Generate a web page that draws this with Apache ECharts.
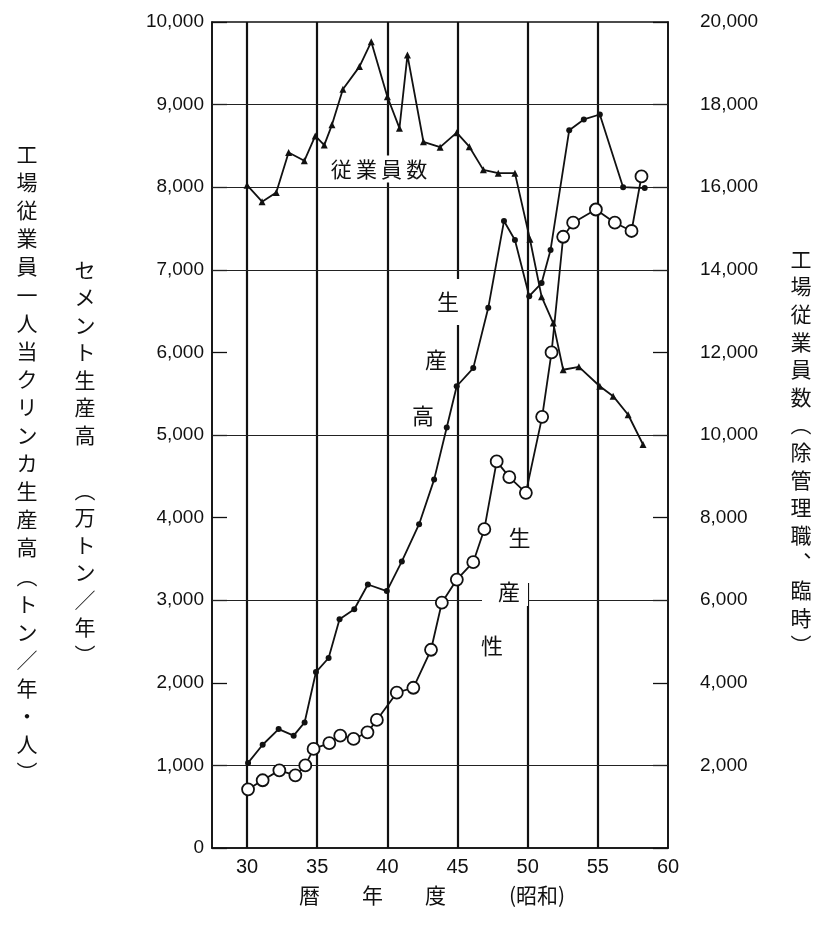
<!DOCTYPE html>
<html>
<head>
<meta charset="utf-8">
<script src="https://cdn.jsdelivr.net/npm/echarts@6/dist/echarts.min.js"></script>
<style>
html,body{margin:0;padding:0;background:#fff;}
#chart{width:819px;height:933px;}
</style>
</head>
<body>
<div id="chart"></div>
<script>
// ---- data ----
// x tick labels (昭和 fiscal years)
const xTicks = [30, 35, 40, 45, 50, 55, 60];
// 工場従業員数 (right axis) — year positions and values
const empYears = [30.0, 31.07, 32.08, 32.96, 34.08, 34.86, 35.5, 36.05, 36.83, 38.01, 38.85, 40.0, 40.86, 41.43, 42.57, 43.76, 44.94, 45.84, 46.84, 47.9, 49.09, 50.16, 50.99, 51.82, 52.53, 53.65, 55.14, 56.09, 57.16, 58.22];
const empCount = [16050, 15650, 15870, 16840, 16640, 17240, 17020, 17510, 18370, 18920, 19520, 18190, 17430, 19200, 17100, 16970, 17320, 16980, 16420, 16340, 16340, 14740, 13350, 12710, 11580, 11650, 11180, 10940, 10490, 9770];
// セメント生産高 (万トン/年, left axis)
const cementYears = [30.07, 31.11, 32.25, 33.32, 34.1, 34.91, 35.81, 36.59, 37.64, 38.61, 39.96, 41.03, 42.26, 43.33, 44.23, 44.94, 46.12, 47.19, 48.31, 49.09, 50.11, 50.99, 51.63, 52.96, 54.0, 55.14, 56.8, 58.34];
const cementOutput = [1030, 1250, 1440, 1360, 1520, 2130, 2300, 2770, 2890, 3190, 3110, 3470, 3920, 4460, 5090, 5590, 5810, 6540, 7590, 7360, 6680, 6840, 7240, 8690, 8820, 8880, 8000, 7990];
// 工場従業員一人当クリンカ生産高 (トン/年・人, left axis)
const prodYears = [30.07, 31.11, 32.3, 33.44, 34.15, 34.74, 35.86, 36.64, 37.59, 38.58, 39.25, 40.67, 41.85, 43.11, 43.88, 44.95, 46.12, 46.91, 47.79, 48.69, 49.87, 51.03, 51.7, 52.53, 53.24, 54.86, 56.21, 57.4, 58.11];
const prodValues = [710, 820, 940, 880, 1000, 1200, 1270, 1360, 1320, 1400, 1550, 1880, 1940, 2400, 2970, 3250, 3460, 3860, 4680, 4490, 4300, 5220, 6000, 7400, 7570, 7730, 7570, 7470, 8130];
// grid lines
const vGrid = [30, 35, 40, 45, 50, 55];
const hGrid = [1000, 3000, 5000, 7000, 8000, 9000];

// ---- chart ----
const comma = v => String(v).replace(/\B(?=(\d{3})+(?!\d))/g, ',');
const numFont = 'Liberation Sans';
const cjk = '"Noto Sans CJK JP", "Noto Sans CJK SC", sans-serif';
const ink = '#111';
const pairs = (xs, ys) => xs.map((x, i) => [x, ys[i]]);
const vert = s => Array.from(s).join('\n');

const chart = echarts.init(document.getElementById('chart'), null, {renderer: 'canvas'});
chart.setOption({
  animation: false,
  backgroundColor: '#fff',
  grid: {left: 212, right: 151, top: 22, bottom: 85, show: true, borderColor: ink, borderWidth: 1.6, backgroundColor: 'transparent'},
  xAxis: {
    type: 'value', min: 27.5, max: 60, interval: 2.5,
    axisLine: {show: true, lineStyle: {color: ink, width: 1.6}},
    axisTick: {show: false},
    splitLine: {show: false},
    axisLabel: {
      color: ink, fontFamily: numFont, fontSize: 20, margin: 9,
      formatter: v => (xTicks.indexOf(v) >= 0 ? String(v) : '')
    }
  },
  yAxis: [
    {
      type: 'value', min: 0, max: 10000, interval: 1000, position: 'left',
      axisLine: {show: true, lineStyle: {color: ink, width: 1.6}},
      axisTick: {show: true, inside: true, length: 15, lineStyle: {color: ink, width: 1.3}},
      splitLine: {show: false},
      axisLabel: {color: ink, fontFamily: numFont, fontSize: 19, margin: 8, formatter: v => comma(v)}
    },
    {
      type: 'value', min: 0, max: 20000, interval: 2000, position: 'right',
      axisLine: {show: true, lineStyle: {color: ink, width: 1.6}},
      axisTick: {show: true, inside: true, length: 15, lineStyle: {color: ink, width: 1.3}},
      splitLine: {show: false},
      axisLabel: {color: ink, fontFamily: numFont, fontSize: 19, margin: 32, formatter: v => (v === 0 ? '' : comma(v))}
    }
  ],
  series: [
    {
      name: 'grid', type: 'line', data: [], z: 1, silent: true,
      markLine: {
        z: 1, silent: true, symbol: ['none', 'none'], label: {show: false}, animation: false,
        data: vGrid.map(v => ({xAxis: v, lineStyle: {color: ink, width: 2.2, type: 'solid'}}))
          .concat(hGrid.map(v => ({yAxis: v, lineStyle: {color: '#222', width: 1.2, type: 'solid'}})))
      }
    },
    {
      name: '従業員数', type: 'line', yAxisIndex: 1, z: 3,
      data: pairs(empYears, empCount),
      symbol: 'triangle', symbolSize: 7, showAllSymbol: true,
      itemStyle: {color: ink},
      lineStyle: {color: ink, width: 1.8}
    },
    {
      name: 'セメント生産高', type: 'line', yAxisIndex: 0, z: 3,
      data: pairs(cementYears, cementOutput),
      symbol: 'circle', symbolSize: 6, showAllSymbol: true,
      itemStyle: {color: ink},
      lineStyle: {color: ink, width: 1.8}
    },
    {
      name: '生産性', type: 'line', yAxisIndex: 0, z: 4,
      data: pairs(prodYears, prodValues),
      symbol: 'circle', symbolSize: 12, showAllSymbol: true,
      itemStyle: {color: '#fff', borderColor: ink, borderWidth: 1.8},
      lineStyle: {color: ink, width: 1.8}
    }
  ],
  graphic: [
    // axis titles (vertical)
    {type: 'text', x: 27, y: 140, z: 2, style: {text: vert('工場従業員一人当クリンカ生産高︵トン／年・人︶'), font: '21px ' + cjk, fill: ink, align: 'center', verticalAlign: 'top', lineHeight: 28.1}},
    {type: 'text', x: 85, y: 256, z: 2, style: {text: vert('セメント生産高　︵万トン／年︶'), font: '21px ' + cjk, fill: ink, align: 'center', verticalAlign: 'top', lineHeight: 27.5}},
    {type: 'text', x: 801, y: 245, z: 2, style: {text: vert('工場従業員数︵除管理職︑臨時︶'), font: '21px ' + cjk, fill: ink, align: 'center', verticalAlign: 'top', lineHeight: 27.6}},
    {type: 'text', x: 432, y: 895, z: 2, style: {text: '暦　　年　　度　　　(昭和)', font: '21px ' + cjk, fill: ink, align: 'center', verticalAlign: 'middle'}},
    // in-plot labels
    {type: 'text', x: 379, y: 169, z: 2, style: {text: '従\u2009業\u2009員\u2009数', font: '21px ' + cjk, fill: ink, align: 'center', verticalAlign: 'middle', backgroundColor: '#fff', padding: [3, 2, 3, 2]}},
    {type: 'text', x: 448, y: 302, z: 2, style: {text: '生', font: '22px ' + cjk, fill: ink, align: 'center', verticalAlign: 'middle', backgroundColor: '#fff', padding: [4, 3, 20, 3]}},
    {type: 'text', x: 436, y: 360, z: 2, style: {text: '産', font: '22px ' + cjk, fill: ink, align: 'center', verticalAlign: 'middle'}},
    {type: 'text', x: 423, y: 416, z: 2, style: {text: '高', font: '22px ' + cjk, fill: ink, align: 'center', verticalAlign: 'middle'}},
    {type: 'text', x: 522, y: 538, z: 2, style: {text: '生', font: '22px ' + cjk, fill: ink, align: 'center', verticalAlign: 'middle', backgroundColor: '#fff', padding: [14, 9, 54, 4]}},
    {type: 'text', x: 505, y: 592, z: 2, style: {text: '産', font: '22px ' + cjk, fill: ink, align: 'center', verticalAlign: 'middle', backgroundColor: '#fff', padding: [2, 8, 4, 16]}},
    {type: 'text', x: 492, y: 646, z: 2, style: {text: '性', font: '22px ' + cjk, fill: ink, align: 'center', verticalAlign: 'middle'}}
  ]
});
</script>
</body>
</html>
